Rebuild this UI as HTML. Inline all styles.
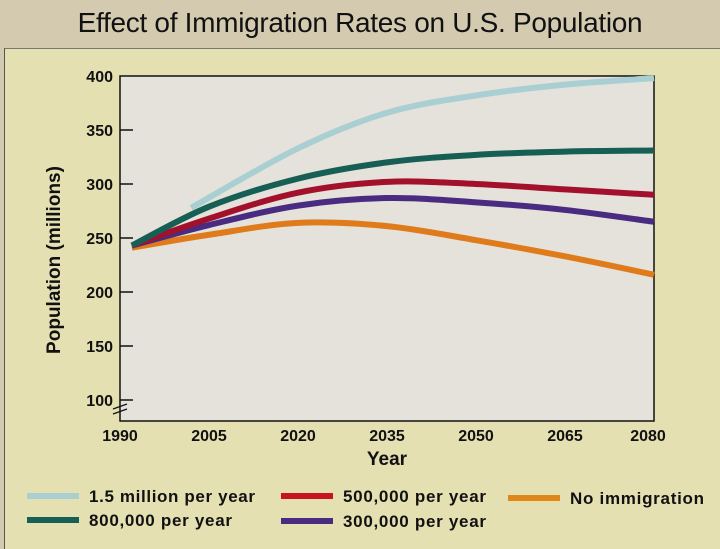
<!DOCTYPE html>
<html><head><meta charset="utf-8"><style>
body{margin:0;width:720px;height:540px;overflow:hidden;background:#d3cab0;font-family:"Liberation Sans",Arial,sans-serif}
#title{position:absolute;left:0;top:0;width:720px;height:48px;line-height:46px;text-align:center;font-size:28px;color:#111;letter-spacing:-0.3px}
#panel{position:absolute;left:4px;top:48px;width:720px;height:500px;background:#e5e0b2;border-left:1px solid #555;border-top:1px solid #777}
svg{position:absolute;left:0;top:0}
</style></head><body>
<div id="title">Effect of Immigration Rates on U.S. Population</div>
<div id="panel"></div>
<svg id="chart" width="720" height="540"></svg>
<script>
const years=[1992,2005,2020,2035,2050,2065,2080];
const s15Years=[2002,2020,2035,2050,2065,2080];
const s15=[278,333,366,382,392,398];
const s800=[243,279,305,320,327,330,331];
const s500=[243,268,292,302,300,295,290];
const s300=[243,262,280,287,283,276,265];
const s0=[241,253,264,261,248,233,216];
const yTicks=[100,150,200,250,300,350,400];
const xTicks=[1990,2005,2020,2035,2050,2065,2080];
const NS='http://www.w3.org/2000/svg';
const svg=document.getElementById('chart');
const X=yr=>120+(yr-1990)*(534/90);
const Y=v=>400-(v-100)*1.08;
function mk(t,a){const e=document.createElementNS(NS,t);for(const k in a)e.setAttribute(k,a[k]);svg.appendChild(e);return e;}
let r=mk('rect',{x:120,y:76,width:534,height:345,fill:'#e4e2da',stroke:'#111','stroke-width':1.5});


yTicks.forEach(v=>{
  if(v<400){const l=mk('line',{x1:120,x2:133,y1:Y(v),y2:Y(v),stroke:'#111','stroke-width':1.5});
  
  }
  const t=mk('text',{x:113,y:Y(v)+6,'text-anchor':'end','font-size':16,'font-weight':'bold',fill:'#111'});
  t.textContent=v;
  
  
});
let br=mk('path',{d:'M113,414 l14,-5 M113,409 l14,-5',stroke:'#111','stroke-width':1.2,fill:'none'});


xTicks.forEach(yr=>{
  const t=mk('text',{x:Math.min(X(yr),648),y:441,'text-anchor':'middle','font-size':16,'font-weight':'bold',fill:'#111'});
  t.textContent=yr;
  
  
});
let xt=mk('text',{x:387,y:465,'text-anchor':'middle','font-size':19,'font-weight':'bold',fill:'#111'});
xt.textContent='Year';


let yt=mk('text',{x:0,y:0,'text-anchor':'middle','font-size':19,'font-weight':'bold',fill:'#111',transform:'translate(60,260) rotate(-90)'});
yt.textContent='Population (millions)';


function path(xs,vs){
  const p=xs.map((x,i)=>[X(x),Y(vs[i])]);
  let d='M'+p[0][0]+','+p[0][1];
  for(let i=0;i<p.length-1;i++){
    const p0=p[i-1]||p[i],p1=p[i],p2=p[i+1],p3=p[i+2]||p2;
    d+=' C'+(p1[0]+(p2[0]-p0[0])/6)+','+(p1[1]+(p2[1]-p0[1])/6)+' '+(p2[0]-(p3[0]-p1[0])/6)+','+(p2[1]-(p3[1]-p1[1])/6)+' '+p2[0]+','+p2[1];
  }
  return d;
}
const series=[[years,s0,'#e07b1c','series-no-immigration'],[years,s300,'#4a2b82','series-300k'],[years,s500,'#a3102c','series-500k'],[years,s800,'#175e54','series-800k'],[s15Years,s15,'#a9cfd2','series-1-5m']];
series.forEach(s=>{
  const e=mk('path',{d:path(s[0],s[1]),stroke:s[2],'stroke-width':6,fill:'none'});
  
  
});
const legend=[[27,496,'#a9cfd2','1.5 million per year'],[27,520,'#175e54','800,000 per year'],[281,496,'#c81420','500,000 per year'],[281,521,'#4a2b82','300,000 per year'],[508,498,'#e0871c','No immigration']];
legend.forEach(l=>{
  const sw=mk('rect',{x:l[0],y:l[1]-3,width:52,height:6,fill:l[2]});
  
  
  const t=mk('text',{x:l[0]+62,y:l[1]+6,'font-size':17,'font-weight':'bold',fill:'#111',textLength:l[3]=='No immigration'?134:(l[3].length>17?166:143)});
  t.textContent=l[3];
  
  
});
</script>
</body></html>
